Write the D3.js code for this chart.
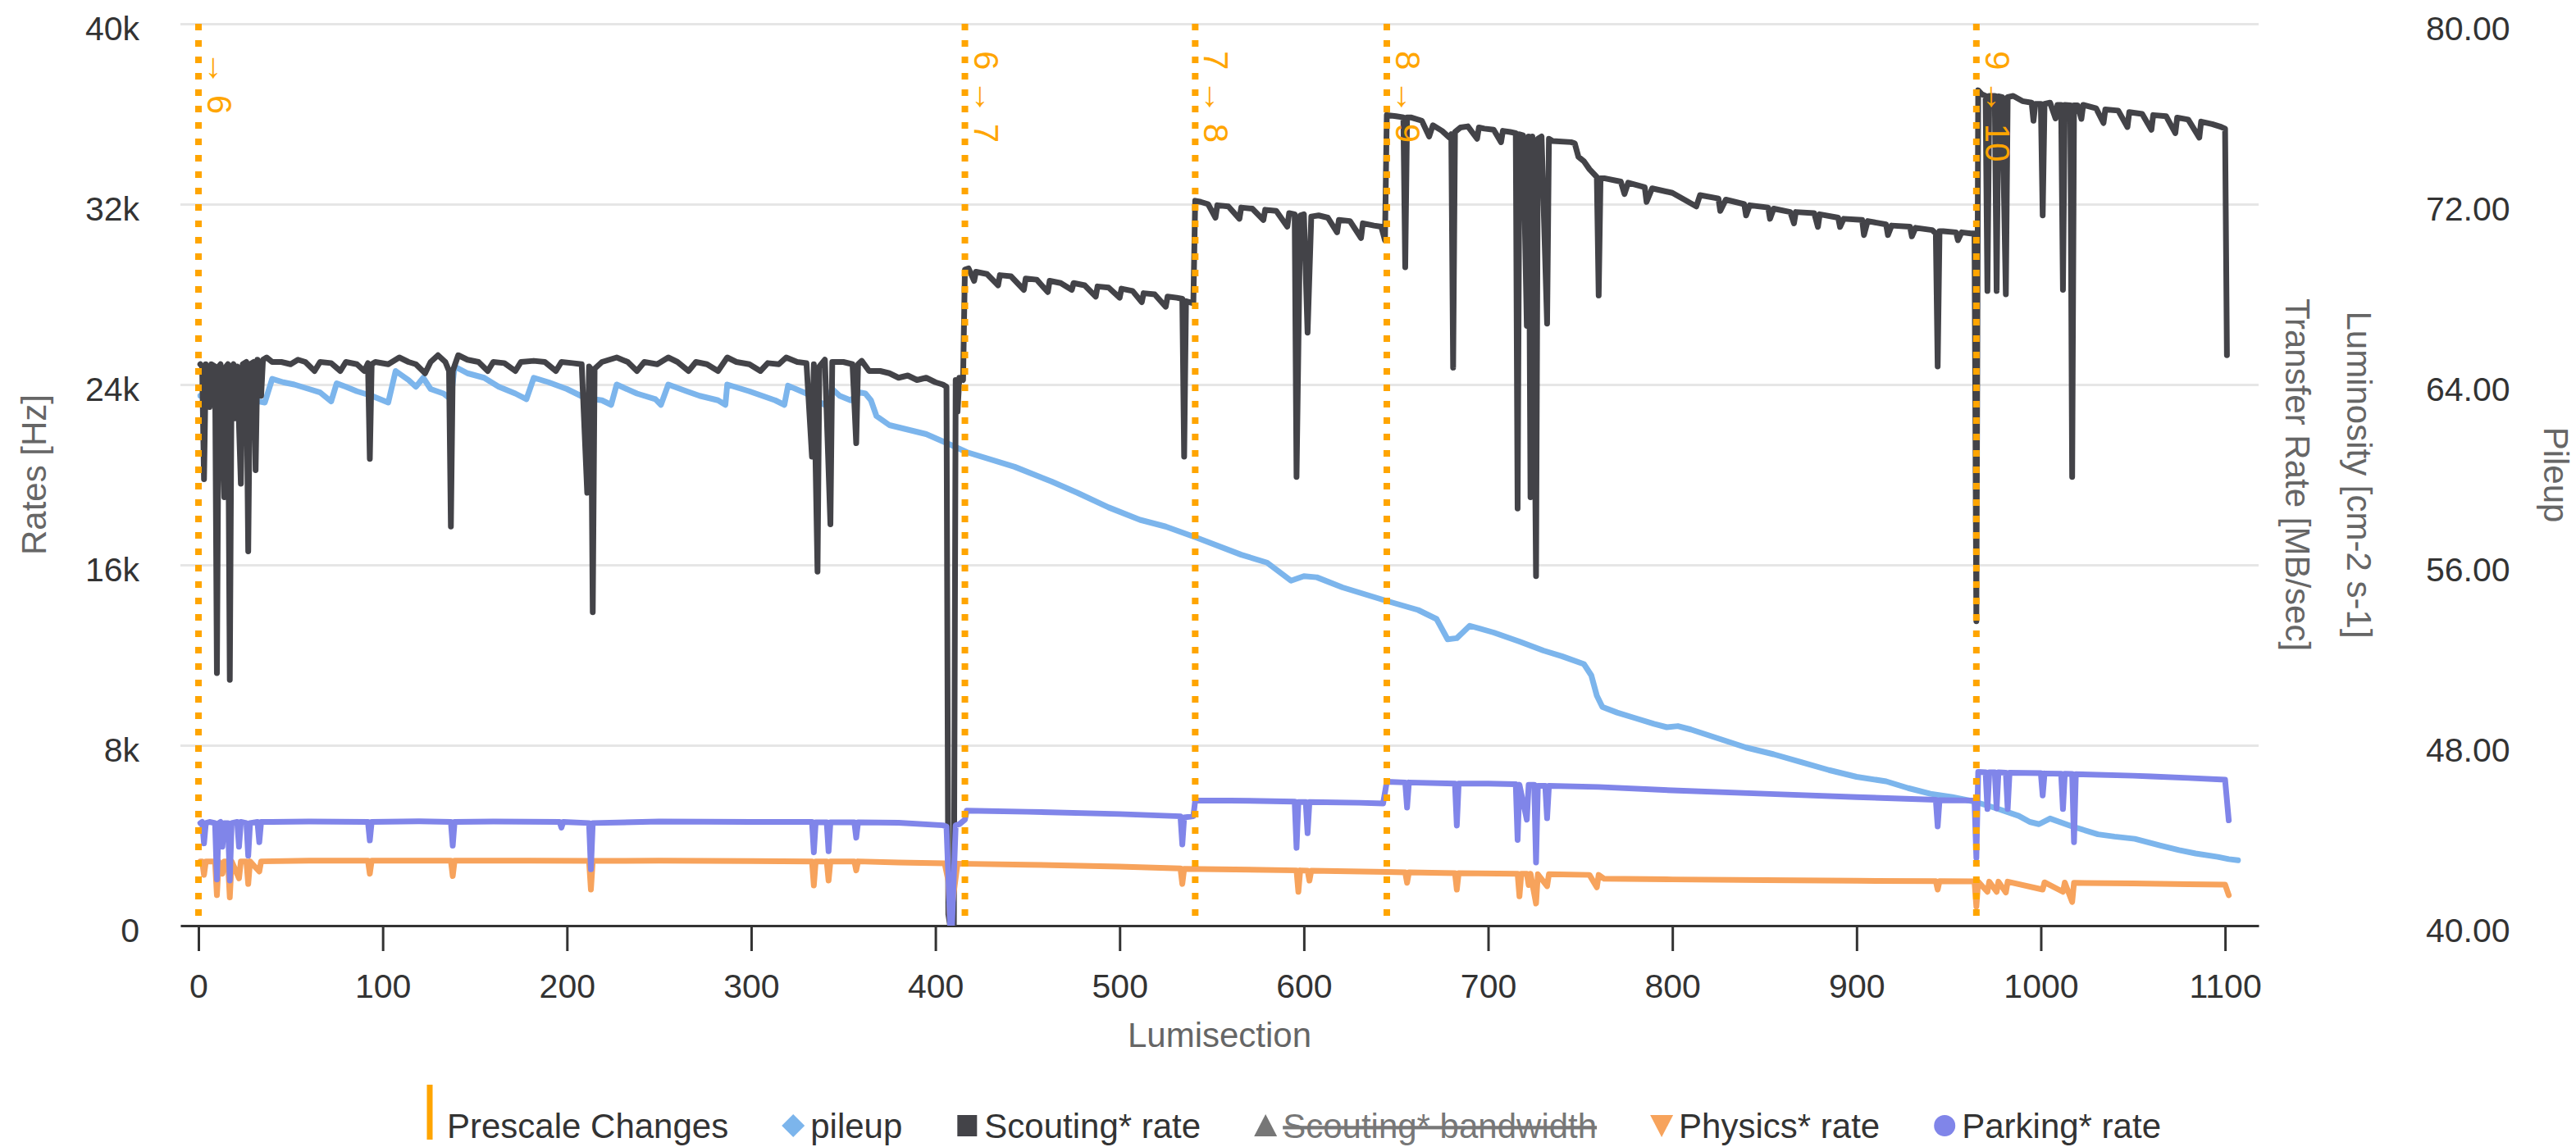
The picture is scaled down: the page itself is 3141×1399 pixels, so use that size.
<!DOCTYPE html>
<html><head><meta charset="utf-8">
<script src="https://cdn.jsdelivr.net/npm/d3@7"></script>
<style>
html,body{margin:0;padding:0;background:#fff;}
svg{display:block;font-family:"Liberation Sans",Arial,Helvetica,sans-serif;}
</style></head><body>
<svg id="chart" width="3141" height="1399"></svg>
<script>
// ---------------- DATA ----------------
const xTicks = [0,100,200,300,400,500,600,700,800,900,1000,1100];
const rateTicks = [0,8000,16000,24000,32000,40000];
const rateTickLabels = ["0","8k","16k","24k","32k","40k"];
const pileupTicks = [40,48,56,64,72,80];
const pileupTickLabels = ["40.00","48.00","56.00","64.00","72.00","80.00"];
const prescaleLS = [0,416,541,645,965];
const prescaleLabels = ["\u2192 6","6 \u2192 7","7 \u2192 8","8 \u2192 9","9 \u2192 10"];
const legendNames = ["Prescale Changes","pileup","Scouting* rate","Scouting* bandwidth","Physics* rate","Parking* rate"];

// [lumisection, pileup]
const pileup = [[1,63.5],[10,63.6],[20,63.4],[30,63.3],[36,63.2],[40,64.25],[46,64.1],[52,64.0],[60,63.8],[66,63.65],[72,63.25],[75,64.05],[80,63.9],[86,63.7],[94,63.5],[100,63.3],[103,63.2],[107,64.6],[114,64.2],[118,63.9],[122,64.3],[126,63.8],[133,63.6],[137,63.35],[139,64.8],[146,64.5],[155,64.3],[163,63.9],[172,63.6],[178,63.35],[182,64.3],[190,64.1],[200,63.8],[210,63.4],[219,63.3],[224,63.1],[227,64.0],[238,63.6],[248,63.35],[251,63.1],[255,64.0],[265,63.7],[272,63.5],[282,63.3],[286,63.1],[287,64.0],[299,63.7],[313,63.3],[318,63.1],[320,63.95],[330,63.6],[335,63.3],[340,63.1],[344,63.8],[348,63.5],[354,63.3],[359,63.65],[362,63.6],[365,63.3],[368,62.6],[375,62.2],[395,61.8],[409,61.3],[417,61.0],[443,60.35],[463,59.7],[477,59.2],[494,58.55],[511,58.0],[525,57.7],[542,57.2],[566,56.45],[580,56.1],[593,55.3],[600,55.5],[607,55.45],[621,55.0],[645,54.4],[662,54.0],[672,53.6],[678,52.7],[683,52.75],[690,53.3],[703,53.0],[717,52.6],[730,52.2],[740,51.95],[752,51.6],[756,51.1],[759,50.2],[762,49.7],[770,49.45],[780,49.2],[790,48.95],[797,48.8],[803,48.85],[810,48.7],[825,48.3],[840,47.9],[855,47.6],[870,47.25],[885,46.9],[900,46.6],[916,46.4],[928,46.1],[940,45.85],[952,45.7],[964,45.5],[976,45.2],[988,44.87],[994,44.6],[999,44.5],[1005,44.75],[1017,44.4],[1031,44.05],[1040,43.95],[1051,43.85],[1065,43.55],[1075,43.35],[1084,43.2],[1096,43.05],[1102,42.95],[1107,42.9]];

// [lumisection, Hz]
const scoutingRate = [[1,24900],[2,24800],[3,19800],[4,24900],[5,24700],[6,23000],[7,24900],[9,24800],[10,11200],[11,24800],[12,24900],[13,22000],[14,19000],[15,24800],[16,24900],[17,10900],[18,24800],[19,24900],[20,22500],[21,24800],[23,19600],[24,24900],[26,25000],[27,16600],[28,24900],[30,25000],[31,20200],[32,25100],[34,23500],[35,25100],[37,25200],[40,25000],[45,25000],[50,24900],[54,25100],[58,25000],[63,24600],[66,25000],[72,24950],[77,24600],[80,25000],[86,24900],[90,24600],[92,24950],[93,20700],[94,24900],[96,25000],[103,24900],[109,25200],[114,25000],[118,24900],[123,24500],[126,25000],[130,25300],[134,25000],[136,24600],[137,17700],[138,24600],[141,25300],[146,25100],[152,25000],[157,24600],[160,25000],[166,24950],[172,24600],[175,25000],[182,25050],[188,25000],[194,24600],[197,25000],[203,24950],[208,24900],[211,19200],[212,24800],[213,24700],[214,13900],[215,24700],[219,25000],[227,25200],[233,25000],[238,24600],[242,25000],[249,24900],[255,25200],[260,25000],[266,24600],[270,25000],[276,24900],[282,24600],[287,25200],[292,25000],[299,24900],[305,24600],[309,24950],[315,24900],[319,25200],[325,25000],[330,24950],[333,20800],[334,24900],[336,15700],[337,24800],[340,25100],[343,17800],[344,25000],[350,25000],[355,24900],[357,21400],[358,24900],[360,25050],[364,24600],[370,24600],[375,24500],[380,24300],[385,24400],[390,24200],[395,24300],[400,24100],[404,24000],[406,23900],[407,500],[408,0],[410,0],[411,24200],[412,22800],[413,24300],[415,24200],
[416,29100],[418,29150],[421,28600],[422,29000],[428,28900],[434,28400],[435,28850],[441,28800],[448,28200],[449,28700],[455,28650],[461,28100],[462,28600],[468,28500],[474,28200],[475,28500],[481,28400],[487,27900],[488,28350],[494,28300],[500,27850],[501,28250],[507,28150],[512,27650],[513,28050],[519,28000],[525,27450],[526,27900],[531,27850],[534,27800],[535,20800],[536,27700],[538,27650],[540,27600],
[541,32150],[544,32100],[548,32000],[552,31400],[553,31950],[559,31900],[565,31350],[566,31850],[572,31800],[578,31300],[579,31750],[585,31700],[591,31000],[592,31600],[595,31550],[596,19900],[598,31500],[600,31550],[602,26300],[604,31450],[608,31500],[613,31400],[618,30750],[619,31300],[625,31250],[631,30500],[632,31150],[638,31050],[642,31000],[644,30400],
[645,35950],[650,35900],[654,35850],[655,29200],[656,35850],[658,35850],[664,35700],[668,35000],[670,35500],[675,35250],[679,34950],[680,35100],[681,24750],[682,35200],[685,35400],[689,35450],[694,34900],[695,35400],[698,35350],[703,35300],[707,34750],[708,35250],[712,35200],[715,35150],[716,18500],[717,35100],[719,35050],[721,26600],[722,35000],[723,19000],[724,35000],[726,15500],[727,34900],[729,35000],[732,26700],[733,34900],[735,34800],[745,34750],[747,34700],[749,34100],[752,33900],[755,33550],[759,33200],[760,27950],[761,33150],[763,33150],[772,33000],[774,32450],[776,32950],[785,32750],[786,32100],[789,32700],[800,32500],[813,31900],[815,32400],[825,32250],[826,31700],[829,32200],[839,32000],[840,31500],[842,31950],[852,31850],[853,31350],[855,31800],[864,31650],[866,31150],[867,31650],[877,31600],[879,30990],[880,31550],[890,31400],[891,30990],[893,31350],[903,31300],[904,30630],[906,31250],[916,31100],[917,30630],[919,31050],[929,31000],[930,30570],[932,30950],[941,30850],[943,30700],[944,24800],[945,30800],[947,30800],[954,30750],[955,30400],[957,30750],[962,30700],[964,30700],[965,13500],
[966,37050],[968,36870],[970,36800],[971,28150],[972,36800],[975,36800],[976,28150],[977,36780],[979,36750],[981,28000],[982,36750],[985,36800],[990,36570],[995,36500],[996,35700],[997,36450],[1000,36450],[1001,31500],[1002,36450],[1005,36500],[1008,35800],[1009,36400],[1011,36400],[1012,28200],[1013,36400],[1016,36380],[1017,19900],[1018,36380],[1020,36380],[1022,35780],[1023,36400],[1030,36250],[1034,35600],[1035,36200],[1042,36150],[1047,35420],[1048,36080],[1055,36000],[1060,35300],[1061,35950],[1068,35900],[1073,35150],[1074,35840],[1080,35750],[1086,34950],[1087,35660],[1093,35550],[1098,35420],[1100,35350],[1101,25300]];

const physicsRate = [[1,2850],[2,2850],[3,2250],[4,2850],[9,2850],[10,1350],[11,2850],[13,2300],[14,2850],[16,2850],[17,1250],[18,2850],[22,2100],[23,2850],[26,2850],[27,1850],[28,2850],[33,2400],[34,2850],[60,2880],[92,2880],[93,2300],[94,2880],[120,2880],[137,2880],[138,2200],[139,2880],[180,2880],[212,2870],[213,1600],[214,2870],[250,2880],[300,2860],[333,2850],[334,1780],[335,2850],[341,2850],[342,2000],[343,2850],[356,2850],[357,2450],[358,2850],[380,2800],[405,2760],[407,2000],[408,200],[410,1500],[412,2750],[450,2700],[500,2620],[533,2540],[534,1850],[535,2520],[596,2450],[597,1500],[598,2450],[602,2440],[603,2000],[604,2440],[645,2380],[655,2360],[656,1900],[657,2360],[682,2330],[683,1600],[684,2330],[716,2300],[717,1300],[718,2300],[721,2300],[722,1800],[723,2300],[726,980],[727,2280],[732,1750],[733,2280],[755,2250],[759,1700],[760,2250],[763,2080],[800,2050],[850,2020],[900,1990],[943,1970],[944,1600],[945,1970],[964,1960],[965,850],[966,1950],[971,1500],[972,1950],[976,1500],[977,1950],[981,1470],[982,1950],[1001,1600],[1002,1920],[1012,1500],[1013,1910],[1017,1050],[1018,1900],[1050,1870],[1080,1840],[1100,1820],[1102,1350]];

const parkingRate = [[1,4550],[2,4600],[3,3650],[4,4550],[6,4600],[9,4550],[10,2050],[11,4550],[12,4600],[13,3500],[14,4550],[16,4550],[17,2000],[18,4550],[21,4600],[22,3500],[23,4600],[26,4550],[27,3100],[28,4550],[32,4600],[33,3700],[34,4600],[40,4600],[60,4620],[92,4600],[93,3780],[94,4600],[120,4630],[137,4600],[138,3550],[139,4600],[160,4620],[196,4600],[197,4350],[198,4600],[212,4550],[213,2500],[214,4550],[250,4620],[300,4600],[333,4600],[334,3250],[335,4580],[341,4580],[342,3300],[343,4580],[356,4580],[357,3900],[358,4580],[380,4560],[404,4450],[406,4400],[408,0],[409,0],[411,4450],[413,4500],[416,4700],[417,5100],[450,5050],[500,4950],[533,4850],[534,3600],[535,4800],[540,4850],[541,5550],[560,5550],[595,5500],[596,3450],[597,5480],[601,5480],[602,4100],[603,5480],[630,5450],[643,5420],[645,6380],[655,6350],[656,5240],[657,6350],[682,6300],[683,4440],[684,6300],[700,6300],[715,6270],[716,3800],[717,6250],[721,4700],[722,6250],[725,6250],[726,2800],[727,6200],[731,6200],[732,4760],[733,6200],[760,6150],[800,6000],[850,5850],[900,5700],[943,5580],[944,4400],[945,5560],[964,5550],[965,3000],[966,6820],[970,6800],[971,5170],[972,6800],[975,6800],[976,5200],[977,6800],[981,6780],[982,5170],[983,6780],[1000,6760],[1001,5770],[1002,6750],[1011,6740],[1012,5170],[1013,6740],[1017,6730],[1018,3700],[1019,6720],[1050,6650],[1060,6620],[1080,6550],[1100,6470],[1102,4670]];

// ---------------- CHART ----------------
const FONT = '"Liberation Sans",Arial,Helvetica,sans-serif';
const svg = d3.select("#chart");
const L = 220, R = 2754, T = 29, B = 1129;

const x = d3.scaleLinear().domain([-9.8, 1118.2]).range([L, R]);
const yRate = d3.scaleLinear().domain([0, 40000]).range([B, T]);
const yPile = d3.scaleLinear().domain([40, 80]).range([B, T]);

// gridlines
const grid = svg.append("g").attr("transform", `translate(${L},0)`)
  .call(d3.axisLeft(yRate).tickValues(rateTicks).tickSize(-(R - L)).tickFormat(""));
grid.select(".domain").remove();
grid.selectAll("line").attr("stroke", "#e6e6e6").attr("stroke-width", 3);

// left axis labels
const yl = svg.append("g").attr("transform", `translate(${L},0)`)
  .call(d3.axisLeft(yRate).tickValues(rateTicks).tickSize(0)
    .tickFormat((d, i) => rateTickLabels[i]));
yl.select(".domain").remove();
yl.selectAll("text").attr("x", -50).attr("dy", 0).attr("y", 19)
  .attr("font-size", 41).attr("font-family", FONT).attr("fill", "#333").attr("text-anchor", "end");

// right axis labels (pileup)
const yr = svg.append("g").attr("transform", `translate(${R},0)`)
  .call(d3.axisRight(yPile).tickValues(pileupTicks).tickSize(0)
    .tickFormat((d, i) => pileupTickLabels[i]));
yr.select(".domain").remove();
yr.selectAll("text").attr("x", 204).attr("dy", 0).attr("y", 19)
  .attr("font-size", 41).attr("font-family", FONT).attr("fill", "#333").attr("text-anchor", "start");

// x axis
const xa = svg.append("g").attr("transform", `translate(0,${B})`)
  .call(d3.axisBottom(x).tickValues(xTicks).tickSize(31).tickSizeOuter(0).tickFormat(d3.format("d")));
xa.select(".domain").attr("stroke", "#333").attr("stroke-width", 3);
xa.selectAll(".tick line").attr("stroke", "#333").attr("stroke-width", 3);
xa.selectAll("text").attr("y", 88).attr("dy", 0)
  .attr("font-size", 41).attr("font-family", FONT).attr("fill", "#333");

// axis titles
const title = (tx, ty, rot, txt) => svg.append("text")
  .attr("transform", `translate(${tx},${ty}) rotate(${rot})`)
  .attr("text-anchor", "middle").attr("font-size", 42).attr("font-family", FONT)
  .attr("fill", "#666").text(txt);
title(1487, 1277, 0, "Lumisection");
title(56, (T + B) / 2, -90, "Rates [Hz]");
title(2787, (T + B) / 2, 90, "Transfer Rate [MB/sec]");
title(2862, (T + B) / 2, 90, "Luminosity [cm-2 s-1]");
title(3102, (T + B) / 2, 90, "Pileup");

// clip
svg.append("clipPath").attr("id", "plotclip").append("rect")
  .attr("x", L).attr("y", T).attr("width", R - L).attr("height", B - T);
const plot = svg.append("g").attr("clip-path", "url(#plotclip)");

const rateLine = d3.line().x(d => x(d[0])).y(d => yRate(d[1]));
const pileLine = d3.line().x(d => x(d[0])).y(d => yPile(d[1]));
const drawLine = (data, gen, color) => plot.append("path").datum(data)
  .attr("d", gen).attr("fill", "none").attr("stroke", color)
  .attr("stroke-width", 7).attr("stroke-linejoin", "round").attr("stroke-linecap", "round");

drawLine(pileup, pileLine, "#7cb5ec");
drawLine(scoutingRate, rateLine, "#434348");
drawLine(physicsRate, rateLine, "#f7a35c");
drawLine(parkingRate, rateLine, "#8085e9");

// prescale change lines
const pl = svg.append("g");
pl.selectAll("line").data(prescaleLS).join("line")
  .attr("x1", d => x(d)).attr("x2", d => x(d)).attr("y1", T).attr("y2", B)
  .attr("stroke", "#FFA500").attr("stroke-width", 8).attr("stroke-dasharray", "8,12");
pl.selectAll("text").data(prescaleLS).join("text")
  .attr("transform", d => `translate(${x(d) + 11},62) rotate(90)`)
  .attr("font-size", 42).attr("font-family", FONT).attr("fill", "#FFA500")
  .text((d, i) => prescaleLabels[i]);

// legend
const lg = svg.append("g");
const legendColors = ["#FFA500", "#7cb5ec", "#434348", "#777777", "#f7a35c", "#8085e9"];
const ly = 1373, lbase = 1388;
let tx = 545;
legendNames.forEach((name, i) => {
  const t = lg.append("text").attr("x", tx).attr("y", lbase)
    .attr("font-size", 42).attr("font-family", FONT)
    .attr("fill", i === 3 ? "#777777" : "#333").text(name);
  if (i === 3) t.attr("text-decoration", "line-through");
  const w = t.node().getComputedTextLength();
  const cx = tx - 21, c = legendColors[i];
  if (i === 0) {
    lg.append("rect").attr("x", cx - 3.5).attr("y", 1323).attr("width", 7).attr("height", 67).attr("fill", c);
  } else if (i === 1) {
    lg.append("path").attr("d", `M${cx},${ly-14}L${cx+14},${ly}L${cx},${ly+14}L${cx-14},${ly}Z`).attr("fill", c);
  } else if (i === 2) {
    lg.append("rect").attr("x", cx - 12).attr("y", ly - 13).attr("width", 24).attr("height", 26).attr("fill", c);
  } else if (i === 3) {
    lg.append("path").attr("d", `M${cx},${ly-14}L${cx+14},${ly+13}L${cx-14},${ly+13}Z`).attr("fill", c);
  } else if (i === 4) {
    lg.append("path").attr("d", `M${cx-14},${ly-13}L${cx+14},${ly-13}L${cx},${ly+14}Z`).attr("fill", c);
  } else {
    lg.append("circle").attr("cx", cx).attr("cy", ly).attr("r", 13).attr("fill", c);
  }
  tx += w + 100;
});
</script>
</body></html>
